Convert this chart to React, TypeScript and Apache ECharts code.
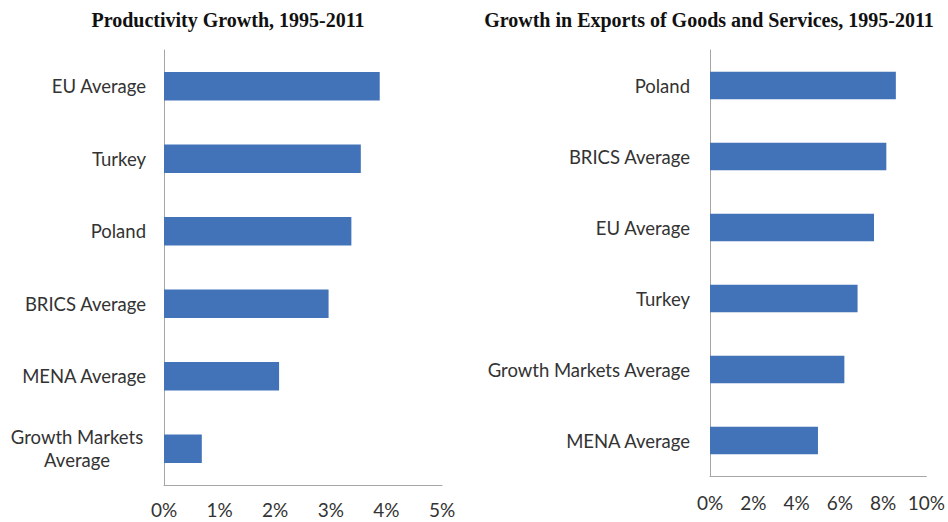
import React, { useEffect, useRef } from "react";
import * as echarts from "echarts";

const productivityCategories = ["EU Average", "Turkey", "Poland", "BRICS Average", "MENA Average", "Growth Markets Average"];
const productivityValues = [3.88, 3.54, 3.37, 2.96, 2.07, 0.68];
const exportCategories = ["Poland", "BRICS Average", "EU Average", "Turkey", "Growth Markets Average", "MENA Average"];
const exportValues = [8.59, 8.15, 7.58, 6.82, 6.21, 4.99];
const titles = ["Productivity Growth, 1995-2011", "Growth in Exports of Goods and Services, 1995-2011"];

const BAR = "#4272b8";
const AXIS = "#a6a6a6";
const LABEL = "#333333";
const FONT = "Lato, 'Liberation Sans', sans-serif";
const CAT_SIZE = 18.5;
const TICK_SIZE = 19;

export default function App() {
  const ref = useRef<HTMLDivElement>(null);
  useEffect(() => {
    document.body.style.margin = "0";
    if (!ref.current) return;
    const chart = echarts.init(ref.current, null, { renderer: "svg" });
    const yCommon = {
      type: "category" as const,
      inverse: true,
      axisLine: { show: true, lineStyle: { color: AXIS, width: 1 } },
      axisTick: { show: false },
      splitLine: { show: false },
    };
    const xCommon = {
      type: "value" as const,
      min: 0,
      axisLine: { show: true, lineStyle: { color: AXIS, width: 1 } },
      axisTick: { show: false },
      splitLine: { show: false },
    };
    const titleStyle = {
      fontFamily: "'Liberation Serif', 'Times New Roman', serif",
      fontWeight: "bold" as const,
      fontSize: 20,
      color: "#111",
    };
    chart.setOption({
      animation: false,
      backgroundColor: "#ffffff",
      title: [
        { text: titles[0], left: 223, top: 5, textAlign: "center", textStyle: titleStyle },
        { text: titles[1], left: 704, top: 5, textAlign: "center", textStyle: titleStyle },
      ],
      grid: [
        { left: 164, top: 50, width: 278, height: 435, containLabel: false },
        { left: 710, top: 50, width: 218, height: 426, containLabel: false },
      ],
      xAxis: [
        {
          ...xCommon,
          gridIndex: 0,
          max: 5,
          interval: 1,
          axisLabel: { formatter: "{value}%", color: LABEL, fontSize: TICK_SIZE, fontFamily: FONT, margin: 15 },
        },
        {
          ...xCommon,
          gridIndex: 1,
          max: 10,
          interval: 2,
          axisLabel: { formatter: "{value}%", color: LABEL, fontSize: TICK_SIZE, fontFamily: FONT, margin: 17 },
        },
      ],
      yAxis: [
        {
          ...yCommon,
          gridIndex: 0,
          data: productivityCategories,
          axisLabel: {
            color: LABEL,
            fontSize: CAT_SIZE,
            fontFamily: FONT,
            margin: 18,
            formatter: (v: string) =>
              v === "Growth Markets Average" ? "{c|Growth Markets}\n{c|Average}" : v,
            rich: {
              c: { width: 138, align: "center", color: LABEL, fontSize: CAT_SIZE, fontFamily: FONT, lineHeight: 23 },
            },
          },
        },
        {
          ...yCommon,
          gridIndex: 1,
          data: exportCategories,
          axisLabel: { color: LABEL, fontSize: CAT_SIZE, fontFamily: FONT, margin: 20 },
        },
      ],
      series: [
        {
          type: "bar",
          xAxisIndex: 0,
          yAxisIndex: 0,
          data: productivityValues,
          barWidth: "39%",
          itemStyle: { color: BAR },
        },
        {
          type: "bar",
          xAxisIndex: 1,
          yAxisIndex: 1,
          data: exportValues,
          barWidth: "39%",
          itemStyle: { color: BAR },
        },
      ],
    });
    return () => chart.dispose();
  }, []);
  return <div ref={ref} style={{ width: 948, height: 522 }} />;
}
